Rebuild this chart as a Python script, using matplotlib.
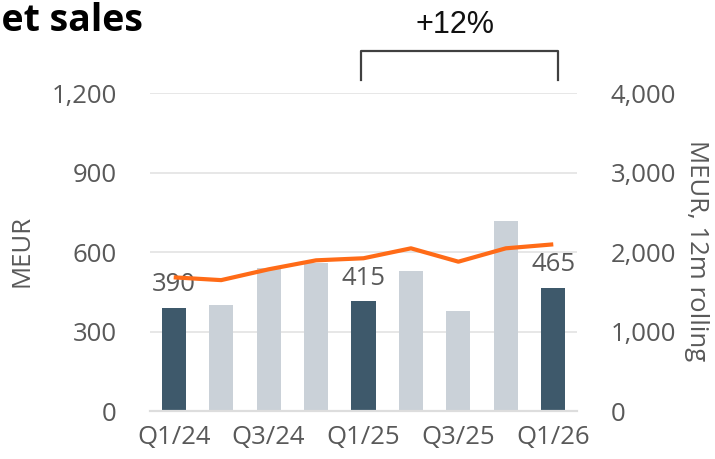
import matplotlib
matplotlib.use("Agg")
import matplotlib.pyplot as plt
import numpy as np

plt.rcParams['font.family'] = ['Open Sans', 'DejaVu Sans']

quarters = ["Q1/24", "Q2/24", "Q3/24", "Q4/24", "Q1/25", "Q2/25", "Q3/25", "Q4/25", "Q1/26"]
sales = [390, 400, 540, 560, 415, 530, 378, 718, 465]
rolling = [1685, 1650, 1786, 1899, 1925, 2050, 1882, 2050, 2100]
highlight = [True, False, False, False, True, False, False, False, True]
tick_labels = ["Q1/24", "", "Q3/24", "", "Q1/25", "", "Q3/25", "", "Q1/26"]
left_ticks = [0, 300, 600, 900, 1200]
right_ticks = [0, 1000, 2000, 3000, 4000]

DARK = "#3E596B"
LIGHT = "#CAD1D8"
ORANGE = "#FF6B17"
GRID = "#E3E3E3"
TXT = "#595959"

W, H = 715, 459
fig = plt.figure(figsize=(W / 100, H / 100), dpi=100)
ax = fig.add_axes([150 / W, 1 - 411.3 / H, 427 / W, (411.3 - 93.3) / H])
x = np.arange(len(quarters))
colors = [DARK if h else LIGHT for h in highlight]
ax.bar(x, sales, width=0.51, color=colors, zorder=2)
ax.set_xlim(-0.5, len(quarters) - 0.5)
ax.set_ylim(0, 1200)
ax.set_yticks(left_ticks)
ax.set_yticklabels([f"{v:,}" for v in left_ticks])
ax.grid(axis='y', color=GRID, lw=1.2, zorder=0)
ax.set_axisbelow(True)
for s in ['top', 'right', 'left']:
    ax.spines[s].set_visible(False)
ax.spines['bottom'].set_color("#DDDDDD")
ax.spines['bottom'].set_linewidth(1.6)
ax.tick_params(axis='both', length=0, labelsize=18.5, colors=TXT)
ax.tick_params(axis='y', pad=24)
ax.tick_params(axis='x', pad=10)
ax.set_xticks(x)
ax.set_xticklabels(tick_labels)
ax.set_ylabel("MEUR", fontsize=18.5, color=TXT, va='center')
ax.yaxis.set_label_coords((22 - 150) / 427, 0.504)

for i, (v, h) in enumerate(zip(sales, highlight)):
    if h:
        ax.text(i, v + 40, f"{v}", ha='center', va='bottom', fontsize=18.5, color=TXT, zorder=5)

ax2 = ax.twinx()
ax2.plot(x, rolling, color=ORANGE, lw=3, zorder=3, solid_capstyle='butt')
ax2.set_ylim(0, 4000)
ax2.set_yticks(right_ticks)
ax2.set_yticklabels([f"{v:,}" for v in right_ticks])
for s in ['top', 'right', 'left', 'bottom']:
    ax2.spines[s].set_visible(False)
ax2.tick_params(axis='y', length=0, labelsize=18.5, colors=TXT, pad=24)
ax2.set_ylabel("MEUR, 12m rolling", fontsize=18.5, color=TXT, rotation=270, va='center')
ax2.yaxis.set_label_coords((697 - 150) / 427, 0.504)

# bracket
bx0, bx1 = 361 / W, 558 / W
by0, by1 = 1 - 80 / H, 1 - 50.7 / H
fig.add_artist(plt.Line2D([bx0, bx0, bx1, bx1], [by0, by1, by1, by0],
                          transform=fig.transFigure, color="#404040", lw=1.6))
fig.text(455 / W, 1 - 33 / H, "+12%", ha='center', va='baseline', fontsize=22,
         family=['Liberation Sans', 'DejaVu Sans'], color="#111111")

fig.text(143 / W, 1 - 31 / H, "Net sales", ha='right', va='baseline', fontsize=27,
         fontweight='bold', color="black")

fig.savefig("out.png", dpi=100)
